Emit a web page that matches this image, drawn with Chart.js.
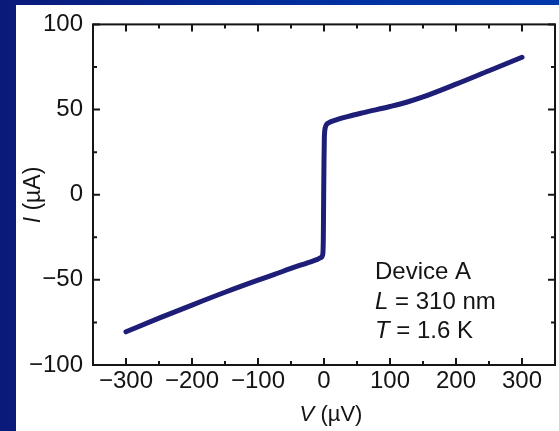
<!DOCTYPE html>
<html>
<head>
<meta charset="utf-8">
<script src="https://cdn.jsdelivr.net/npm/chart.js@4"></script>
<style>
  html, body { margin: 0; padding: 0; }
  body { width: 559px; height: 431px; overflow: hidden; position: relative;
         background: linear-gradient(to right, #0a1a7a 0%, #0030a0 60%, #0038aa 100%); }
  #panel { position: absolute; left: 16px; top: 5px; width: 543px; height: 426px; background: #ffffff; }
  #c { position: absolute; left: 0; top: 0; }
</style>
</head>
<body>
<div id="panel"></div>
<canvas id="c" width="559" height="431"></canvas>
<script>
// Data (V in µV, I in µA)
const voltage = [-300, -250, -200, -150, -100, -75, -50, -25, -10, -5, -2, -1, -0.5, 0, 0.5, 1, 2, 4, 7, 15, 37, 60, 100, 125, 150, 200, 250, 300];
const current = [-80.5, -72.5, -64.8, -57.3, -50.2, -46.8, -43.3, -40, -38, -37, -35.3, -25, 0, 20, 33, 37, 39.5, 41.3, 42.2, 43.5, 46, 48.2, 51.8, 54.3, 57.4, 64.9, 72.8, 80.7];
const xTickValues = [-300, -200, -100, 0, 100, 200, 300];
const yTickValues = [-100, -50, 0, 50, 100];
const annotationLines = [
  [{t: 'Device A', i: false}],
  [{t: 'L', i: true}, {t: ' = 310 nm', i: false}],
  [{t: 'T', i: true}, {t: ' = 1.6 K', i: false}]
];

const FONT = '"Liberation Sans", Arial, Helvetica, sans-serif';
const TXT = '#141414';
const fmt = v => (v < 0 ? '\u2212' + Math.abs(v) : String(v));

const points = voltage.map((v, k) => ({x: v, y: current[k]}));

function drawMixed(ctx, parts, size) {
  let w = 0;
  parts.forEach(p => { ctx.font = (p.i ? 'italic ' : '') + size + 'px ' + FONT; w += ctx.measureText(p.t).width; });
  return w;
}
function fillMixed(ctx, parts, size, x, y) {
  let cx = x;
  parts.forEach(p => {
    ctx.font = (p.i ? 'italic ' : '') + size + 'px ' + FONT;
    ctx.fillText(p.t, cx, y);
    cx += ctx.measureText(p.t).width;
  });
}

const framePlugin = {
  id: 'frame',
  afterDraw(chart) {
    const ctx = chart.ctx;
    const a = chart.chartArea;
    const xs = chart.scales.x, ys = chart.scales.y;
    ctx.save();
    ctx.strokeStyle = '#151515';
    ctx.lineWidth = 2;
    xs.ticks.forEach(t => {
      const px = xs.getPixelForValue(t.value);
      const len = (t.value % 100 === 0) ? 7 : 4;
      ctx.beginPath();
      ctx.moveTo(px, a.bottom); ctx.lineTo(px, a.bottom - len);
      ctx.moveTo(px, a.top); ctx.lineTo(px, a.top + len);
      ctx.stroke();
    });
    ys.ticks.forEach(t => {
      const py = ys.getPixelForValue(t.value);
      const len = (t.value % 50 === 0) ? 7 : 4;
      ctx.beginPath();
      ctx.moveTo(a.left, py); ctx.lineTo(a.left + len, py);
      ctx.moveTo(a.right, py); ctx.lineTo(a.right - len, py);
      ctx.stroke();
    });
    ctx.strokeRect(a.left, a.top, a.right - a.left, a.bottom - a.top);

    ctx.fillStyle = TXT;
    ctx.textBaseline = 'alphabetic';
    const ax = a.left + 282;
    const base = [a.top + 255, a.top + 285, a.top + 314];
    annotationLines.forEach((ln, k) => fillMixed(ctx, ln, 24, ax, base[k]));

    const xt = [{t: 'V', i: true}, {t: ' (\u00b5V)', i: false}];
    const xw = drawMixed(ctx, xt, 22);
    fillMixed(ctx, xt, 22, 331 - xw / 2, 421);

    const yt = [{t: 'I', i: true}, {t: ' (\u00b5A)', i: false}];
    const yw = drawMixed(ctx, yt, 23);
    ctx.translate(40, 195);
    ctx.rotate(-Math.PI / 2);
    fillMixed(ctx, yt, 23, -yw / 2, 0);
    ctx.restore();
  }
};

new Chart(document.getElementById('c'), {
  type: 'line',
  data: {
    datasets: [{
      data: points,
      borderColor: '#1e1e78',
      borderWidth: 5,
      pointRadius: 0,
      cubicInterpolationMode: 'monotone',
      borderJoinStyle: 'round',
      borderCapStyle: 'round',
      fill: false
    }]
  },
  options: {
    responsive: false,
    animation: false,
    devicePixelRatio: 1,
    layout: { padding: { top: 20, right: 4, left: 0, bottom: 0 } },
    plugins: { legend: { display: false }, tooltip: { enabled: false } },
    scales: {
      x: {
        type: 'linear',
        min: -350, max: 350,
        grid: { display: false, drawTicks: false },
        border: { display: false },
        ticks: {
          stepSize: 50,
          padding: 2,
          color: TXT,
          font: { family: FONT, size: 24 },
          maxRotation: 0,
          autoSkip: false,
          callback: v => (xTickValues.includes(v) ? fmt(v) : '')
        },
        afterFit(s) { s.height = 66; }
      },
      y: {
        type: 'linear',
        min: -100, max: 100,
        grid: { display: false, drawTicks: false },
        border: { display: false },
        ticks: {
          stepSize: 25,
          padding: 10,
          color: TXT,
          font: { family: FONT, size: 24 },
          autoSkip: false,
          callback: v => (yTickValues.includes(v) ? fmt(v) : '')
        },
        afterFit(s) { s.width = 93; }
      }
    }
  },
  plugins: [framePlugin]
});
</script>
</body>
</html>
